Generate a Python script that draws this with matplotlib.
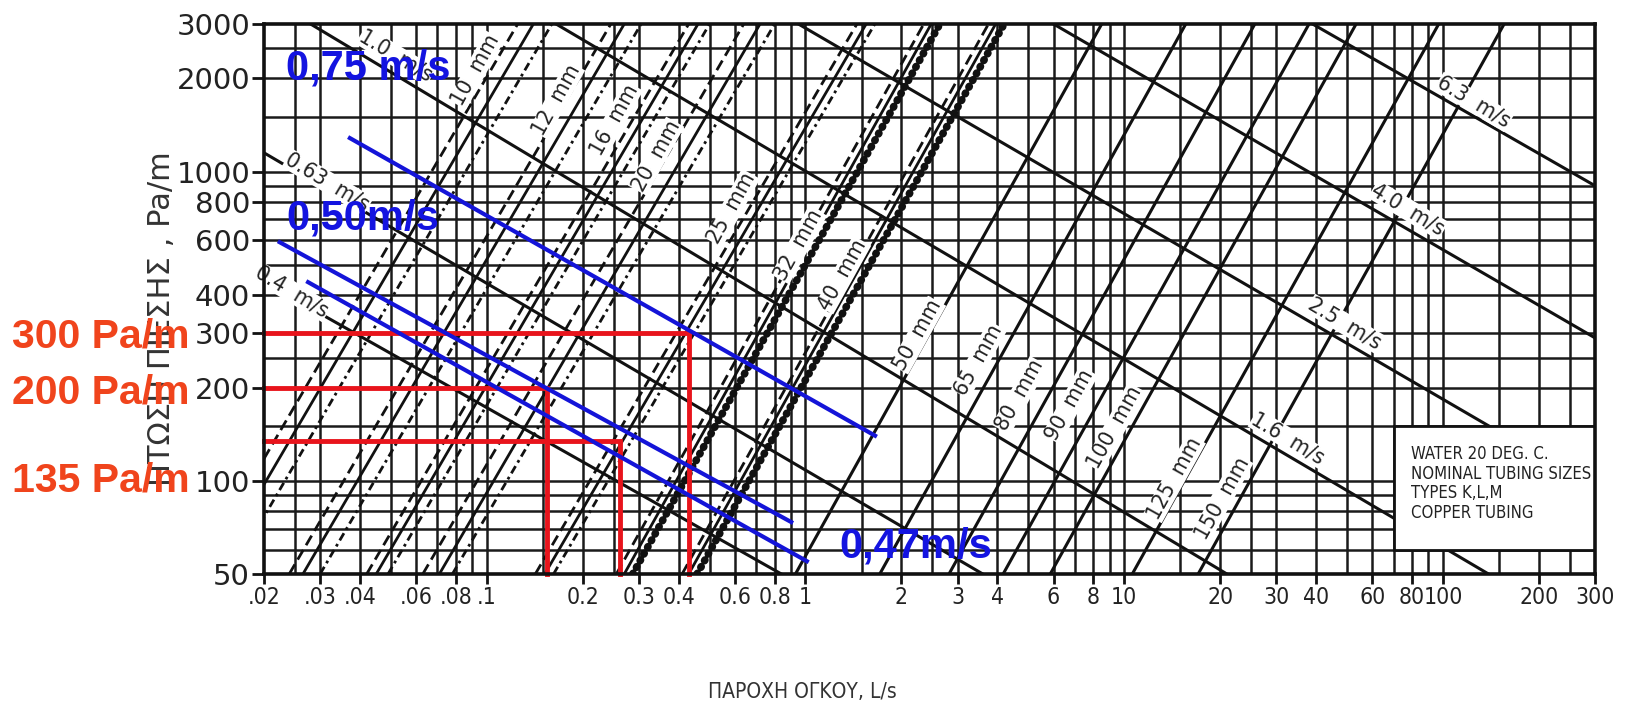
"""
Nomograma απώλειας πίεσης για νερό σε χαλκοσωλήνες (τύποι K, L, M)
με τις σημειώσεις επιλογής διατομής (κόκκινες / μπλε γραμμές).
"""
import matplotlib
matplotlib.use("Agg")
import matplotlib.pyplot as plt
from matplotlib import font_manager as fm
from matplotlib.patches import Rectangle

# ---- άξονες ----
x_ticks = [.02, .03, .04, .06, .08, .1, .2, .3, .4, .6, .8, 1, 2, 3, 4, 6, 8,
           10, 20, 30, 40, 60, 80, 100, 200, 300]
x_labels = [".02", ".03", ".04", ".06", ".08", ".1", "0.2", "0.3", "0.4", "0.6",
            "0.8", "1", "2", "3", "4", "6", "8", "10", "20", "30", "40", "60",
            "80", "100", "200", "300"]
y_ticks = [50, 100, 200, 300, 400, 600, 800, 1000, 2000, 3000]
y_labels = ["50", "100", "200", "300", "400", "600", "800", "1000", "2000", "3000"]

x_grid = [.025, .03, .04, .05, .06, .07, .08, .09, .1, .15, .2, .25, .3, .4, .5,
          .6, .7, .8, .9, 1, 1.5, 2, 2.5, 3, 4, 5, 6, 7, 8, 9, 10, 15, 20, 25,
          30, 40, 50, 60, 70, 80, 90, 100, 150, 200, 250]
y_grid = [60, 70, 80, 90, 100, 150, 200, 250, 300, 400, 500, 600, 700, 800,
          900, 1000, 1500, 2000, 2500]

# ---- σωλήνες 10-40 mm: τρεις γραμμές (K, L, M), παροχή στα 50 και 3000 Pa/m ----
small_sizes = ["10", "12", "16", "20", "25", "32", "40"]
small_q3000_k = [0.125, 0.245, 0.43, 0.64, 1.45, 2.35, 3.75]
small_q3000_l = [0.140, 0.27, 0.46, 0.72, 1.55, 2.48, 3.95]
small_q3000_m = [0.160, 0.305, 0.50, 0.80, 1.65, 2.64, 4.20]
small_q50_k = [0.0123, 0.024, 0.042, 0.063, 0.142, 0.255, 0.41]
small_q50_l = [0.0137, 0.0265, 0.045, 0.071, 0.152, 0.27, 0.43]
small_q50_m = [0.0157, 0.030, 0.049, 0.078, 0.162, 0.287, 0.457]

# ---- σωλήνες 50-150 mm: μία γραμμή ----
big_sizes = ["50", "65", "80", "90", "100", "125", "150"]
big_q3000 = [8.5, 15.6, 25.7, 38.0, 53.4, 97.0, 155.6]
big_q50 = [0.93, 1.71, 2.82, 4.17, 5.86, 10.6, 17.06]

# θέσεις ετικετών διατομής (L/s, Pa/m)
size_label_q = [0.0925, 0.166, 0.2525, 0.34, 0.588, 0.954, 1.312,
                2.255, 3.50, 4.71, 6.76, 9.36, 14.4, 20.3]
size_label_dp = [2129, 1707, 1469, 1122, 762, 579, 463,
                 296, 246, 189, 176, 149, 102, 88]

# ---- γραμμές ταχύτητας ----
vel_labels = ["0.4", "0.63", "1.0", "1.6", "2.5", "4.0", "6.3"]
vel_q0 = [0.02, 0.02, 0.028, 0.165, 0.95, 6.0, 39.0]
vel_dp0 = [440, 1150, 3000, 3000, 3000, 3000, 3000]
vel_q1 = [0.84, 3.6, 21.0, 139.0, 300.0, 300.0, 300.0]
vel_dp1 = [50, 50, 50, 50, 95, 290, 900]
vel_label_q = [0.0245, 0.0317, 0.0519, 32.7, 49.3, 77.8, 125.0]
vel_label_dp = [408, 924, 2364, 137, 322, 752, 1680]

# ---- σημειώσεις ----
red_dp = [300, 200, 135]
red_q = [0.43, 0.155, 0.262]
red_texts = ["300 Pa/m", "200 Pa/m", "135 Pa/m"]
blue_q0 = [0.0372, 0.0224, 0.0275]
blue_dp0 = [1283, 591, 439]
blue_q1 = [1.653, 0.902, 1.01]
blue_dp1 = [140, 73.6, 55]
blue_texts = ["0,75 m/s", "0,50m/s", "0,47m/s"]

W, H = 1628, 708


def pick_narrow():
    """Στενή όρθια γραμματοσειρά αν υπάρχει, αλλιώς Liberation Sans."""
    for f in fm.fontManager.ttflist:
        narrow = "Narrow" in f.name or f.stretch in ("condensed", "semi-condensed")
        if narrow and f.style == "normal" and f.weight in (400, "normal", "regular"):
            return fm.FontProperties(fname=f.fname)
    return fm.FontProperties(family=["Liberation Sans", "DejaVu Sans"])


NARROW_FP = pick_narrow()


def fp(size):
    p = NARROW_FP.copy()
    p.set_size(size)
    return p


def chart_label(ax, x, y, text, angle):
    ax.text(x, y, text, rotation=angle, rotation_mode="anchor", ha="center",
            va="center", fontproperties=fp(16), color="#222", zorder=4,
            bbox=dict(facecolor="white", edgecolor="none", pad=0.3))


def main():
    fig = plt.figure(figsize=(W / 100, H / 100), dpi=100)
    ax = fig.add_axes([264 / W, 1 - 574 / H, (1595 - 264) / W, (574 - 24) / H])
    ax.set_xscale("log")
    ax.set_yscale("log")
    ax.set_xlim(0.02, 300)
    ax.set_ylim(50, 3000)

    for g in x_grid:
        ax.axvline(g, color="#1a1a1a", lw=1.8, zorder=1)
    for g in y_grid:
        ax.axhline(g, color="#1a1a1a", lw=1.8, zorder=1)

    # γραμμές διατομών 10-40 mm (K διακεκομμένη, L συνεχής, M παύλα-τελεία)
    for i, s in enumerate(small_sizes):
        ax.plot([small_q50_k[i], small_q3000_k[i]], [50, 3000], color="#111",
                lw=2.0, ls=(0, (4, 2)), zorder=2)
        ax.plot([small_q50_l[i], small_q3000_l[i]], [50, 3000], color="#111",
                lw=2.0, zorder=2)
        if s in ("32", "40"):
            ax.plot([small_q50_m[i], small_q3000_m[i]], [50, 3000], color="#111",
                    lw=5.5, ls=(0, (0.1, 0.9)), dash_capstyle="round", zorder=2)
        else:
            ax.plot([small_q50_m[i], small_q3000_m[i]], [50, 3000], color="#111",
                    lw=2.0, ls=(0, (3, 1.5, 1, 1.5)), zorder=2)

    # γραμμές διατομών 50-150 mm
    for i in range(len(big_sizes)):
        ax.plot([big_q50[i], big_q3000[i]], [50, 3000], color="#111", lw=2.2, zorder=2)

    for s, q, p in zip(small_sizes + big_sizes, size_label_q, size_label_dp):
        chart_label(ax, q, p, f"{s}  mm", 61)

    # γραμμές ταχύτητας
    for i, v in enumerate(vel_labels):
        ax.plot([vel_q0[i], vel_q1[i]], [vel_dp0[i], vel_dp1[i]],
                color="#111", lw=2.2, zorder=2)
        chart_label(ax, vel_label_q[i], vel_label_dp[i], f"{v}  m/s", -31)

    # πλαίσιο υπομνήματος
    ax.add_patch(Rectangle((70, 60), 230, 90, facecolor="white",
                           edgecolor="#111", lw=2, zorder=5))
    fig.text(1411 / W, 1 - 445 / H,
             "WATER 20 DEG. C.\nNOMINAL TUBING SIZES\nTYPES K,L,M\nCOPPER TUBING",
             ha="left", va="top", fontproperties=fp(12), color="#222",
             linespacing=1.12, zorder=6)

    # κόκκινες οδηγοί γραμμές
    for p, q in zip(red_dp, red_q):
        ax.plot([0.02, q, q], [p, p, 50], color="#e8141c", lw=3.5, zorder=8,
                solid_joinstyle="miter", clip_on=False)

    # μπλε γραμμές ταχύτητας
    for i in range(len(blue_q0)):
        ax.plot([blue_q0[i], blue_q1[i]], [blue_dp0[i], blue_dp1[i]],
                color="#1414d8", lw=3, zorder=8)

    ax.set_xticks(x_ticks)
    ax.set_xticklabels(x_labels)
    for t in ax.get_xticklabels():
        t.set_fontproperties(fp(16.5))
    ax.set_xticks([], minor=True)
    ax.set_yticks(y_ticks)
    ax.set_yticklabels(y_labels, fontsize=21)
    ax.set_yticks([], minor=True)
    ax.tick_params(axis="x", length=7, width=2, color="#111", pad=2, labelcolor="#222")
    ax.tick_params(axis="y", length=9, width=2, color="#111", pad=1, labelcolor="#222")
    for sp in ax.spines.values():
        sp.set_linewidth(2.6)
        sp.set_color("#111")
        sp.set_zorder(9)

    fig.text(161 / W, 1 - 319 / H, "ΠΤΩΣΗ ΠΙΕΣΗΣ , Pa/m", rotation=90,
             ha="center", va="center", fontsize=22, color="#333")
    fig.text(802 / W, 1 - 692 / H, "ΠΑΡΟΧΗ ΟΓΚΟΥ, L/s", ha="center",
             va="center", fontproperties=fp(15), color="#333")

    # ετικέτες σημειώσεων
    red_y = [337, 393, 481]
    for t, yy in zip(red_texts, red_y):
        fig.text(12 / W, 1 - yy / H, t, ha="left", va="center", fontsize=29.5,
                 weight="bold", family="Liberation Sans", color="#f0441c", zorder=10)
    blue_xy = [(286, 68), (286, 218), (839, 546)]
    for t, (xx, yy) in zip(blue_texts, blue_xy):
        fig.text(xx / W, 1 - yy / H, t, ha="left", va="center", fontsize=30,
                 weight="bold", family="Liberation Sans", color="#1414e0", zorder=10)

    fig.savefig("out.png", dpi=100)


if __name__ == "__main__":
    main()
